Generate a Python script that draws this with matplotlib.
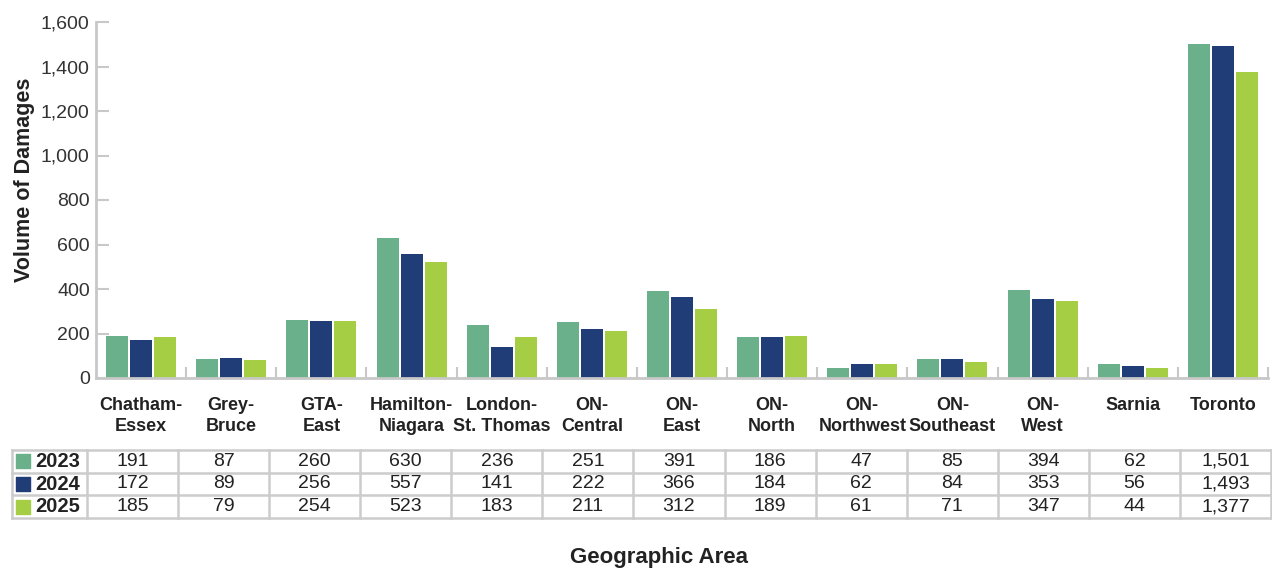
import numpy as np
import matplotlib.pyplot as plt

plt.rcParams['font.family'] = ['Liberation Sans', 'DejaVu Sans']

# Data
areas = ['Chatham-\nEssex', 'Grey-\nBruce', 'GTA-\nEast', 'Hamilton-\nNiagara',
         'London-\nSt. Thomas', 'ON-\nCentral', 'ON-\nEast', 'ON-\nNorth',
         'ON-\nNorthwest', 'ON-\nSoutheast', 'ON-\nWest', 'Sarnia', 'Toronto']
years = ['2023', '2024', '2025']
v2023 = [191, 87, 260, 630, 236, 251, 391, 186, 47, 85, 394, 62, 1501]
v2024 = [172, 89, 256, 557, 141, 222, 366, 184, 62, 84, 353, 56, 1493]
v2025 = [185, 79, 254, 523, 183, 211, 312, 189, 61, 71, 347, 44, 1377]
colors = ['#6ab08b', '#213d77', '#a5ce44']
yticks = [0, 200, 400, 600, 800, 1000, 1200, 1400, 1600]

W, H = 1272, 569
fig = plt.figure(figsize=(W / 100, H / 100), dpi=100)

# main bar axes (pixel positions from the reference)
ax_w = 1268 - 96
ax = fig.add_axes([96 / W, 1 - 378 / H, ax_w / W, (378 - 22) / H])
x = np.arange(len(areas))
series = [v2023, v2024, v2025]
bw = 0.244
step = 0.266
for i, (vals, c) in enumerate(zip(series, colors)):
    ax.bar(x + (i - 1) * step, vals, width=bw, color=c, zorder=2)

ax.set_xlim(-0.5, len(areas) - 0.5)
ax.set_ylim(0, 1600)
ax.set_yticks(yticks)
ax.set_yticklabels(['{:,}'.format(t) for t in yticks], fontsize=14, color='#333333')
ax.tick_params(axis='y', direction='in', length=9, width=1.5, color='#c8c8c8', pad=4.5)

ax.set_xticks(x)
ax.set_xticklabels(areas, fontsize=13, fontweight='bold', color='#222222', linespacing=1.25)
ax.tick_params(axis='x', which='major', length=0, pad=14)
ax.set_xticks(np.arange(0.5, len(areas)), minor=True)
ax.tick_params(axis='x', which='minor', direction='in', length=8, width=1.5, color='#c8c8c8')

for s in ['top', 'right']:
    ax.spines[s].set_visible(False)
for s in ['left', 'bottom']:
    ax.spines[s].set_color('#c8c8c8')
    ax.spines[s].set_linewidth(2)

ax.set_ylabel('Volume of Damages', fontsize=15.5, fontweight='bold', color='#222222')
ax.yaxis.set_label_coords((35 - 96) / ax_w, (378 - 180) / 356)

# data table below
tx0, tx1 = 12, 1271
ty0, ty1 = 450, 518
tax = fig.add_axes([tx0 / W, 1 - ty1 / H, (tx1 - tx0) / W, (ty1 - ty0) / H])
lab_w = 75 / ((tx1 - tx0 - 75) / len(areas))
tax.set_xlim(-lab_w, len(areas))
tax.set_ylim(len(years), 0)
tax.axis('off')

line_c = '#cccccc'
for r in range(len(years) + 1):
    tax.plot([-lab_w, len(areas)], [r, r], color=line_c, lw=1.8, clip_on=False)
tax.plot([-lab_w, -lab_w], [0, len(years)], color=line_c, lw=1.8, clip_on=False)
for cidx in range(len(areas) + 1):
    tax.plot([cidx, cidx], [0, len(years)], color=line_c, lw=1.8, clip_on=False)

for r, (yr, vals, c) in enumerate(zip(years, series, colors)):
    tax.scatter([-lab_w + 0.12], [r + 0.5], marker='s', s=95, color=c, clip_on=False)
    tax.text(-lab_w + 0.26, r + 0.5, yr, fontsize=14.5, fontweight='bold',
             color='#222222', ha='left', va='center')
    for cidx, v in enumerate(vals):
        tax.text(cidx + 0.5, r + 0.5, '{:,}'.format(v), fontsize=14,
                 color='#222222', ha='center', va='center')

fig.text(659 / W, 1 - 557 / H, 'Geographic Area', fontsize=16, fontweight='bold',
         color='#222222', ha='center', va='center')

fig.savefig('out.png', dpi=100)
